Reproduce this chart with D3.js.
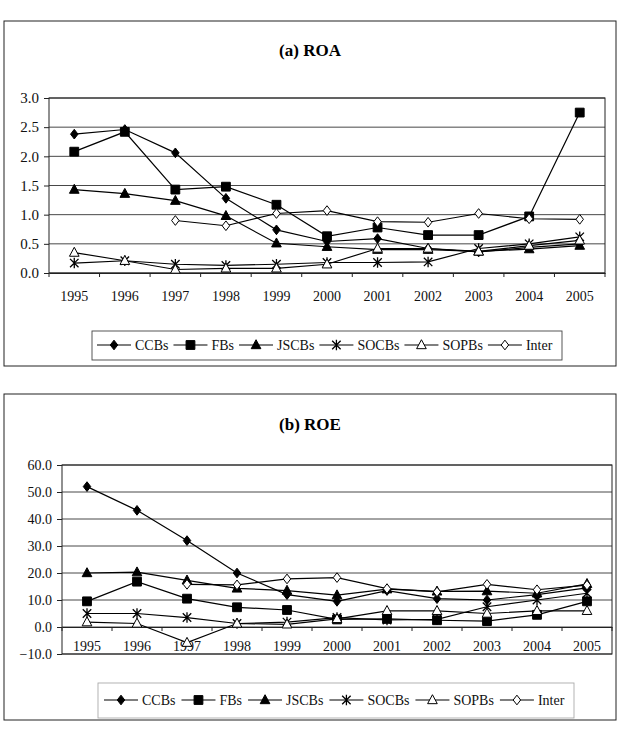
<!DOCTYPE html>
<html><head><meta charset="utf-8">
<script src="https://cdn.jsdelivr.net/npm/d3@7/dist/d3.min.js"></script>
<style>body{margin:0;background:#fff} svg{display:block;font-family:"Liberation Serif","Times New Roman",serif}</style>
</head><body><svg id="c" width="625" height="733"></svg>
<script>
const years = ["1995","1996","1997","1998","1999","2000","2001","2002","2003","2004","2005"];
const seriesNames = ["CCBs","FBs","JSCBs","SOCBs","SOPBs","Inter"];

// (a) ROA
const roaCCBs  = [2.38, 2.46, 2.06, 1.28, 0.74, 0.54, 0.59, 0.42, 0.36, 0.44, 0.50];
const roaFBs   = [2.08, 2.42, 1.43, 1.48, 1.17, 0.63, 0.78, 0.65, 0.65, 0.97, 2.75];
const roaJSCBs = [1.43, 1.36, 1.24, 0.98, 0.51, 0.45, 0.40, 0.40, 0.37, 0.41, 0.47];
const roaSOCBs = [0.17, 0.21, 0.15, 0.13, 0.15, 0.18, 0.18, 0.19, 0.42, 0.50, 0.62];
const roaSOPBs = [0.35, 0.21, 0.06, 0.08, 0.08, 0.15, 0.42, 0.42, 0.37, 0.47, 0.56];
const roaInter = [null, null, 0.90, 0.81, 1.02, 1.07, 0.88, 0.87, 1.02, 0.93, 0.92];
const roaTicks = [0.0, 0.5, 1.0, 1.5, 2.0, 2.5, 3.0];

// (b) ROE
const roeCCBs  = [52.0, 43.2, 32.0, 20.0, 12.0, 9.5, 13.5, 10.5, 10.0, 12.0, 14.5];
const roeFBs   = [9.5, 16.8, 10.5, 7.3, 6.3, 2.8, 3.0, 2.5, 2.2, 4.5, 9.5];
const roeJSCBs = [20.0, 20.3, 17.3, 14.3, 13.5, 11.8, 14.0, 13.2, 13.3, 12.5, 16.0];
const roeSOCBs = [5.0, 5.0, 3.5, 1.3, 1.8, 3.5, 2.6, 2.8, 7.5, 10.0, 12.5];
const roeSOPBs = [1.8, 1.3, -5.8, 1.3, 1.0, 3.0, 6.0, 6.0, 5.0, 6.0, 6.0];
const roeInter = [null, null, 15.8, 15.6, 17.8, 18.3, 14.2, 13.0, 15.8, 13.8, 15.5];
const roeTicks = [-10, 0, 10, 20, 30, 40, 50, 60];

const svg = d3.select("#c");

function markerPath(kind, s) {
  switch (kind) {
    case "diamond": return `M0,${-s*1.1}L${s*0.85},0L0,${s*1.1}L${-s*0.85},0Z`;
    case "square": return `M${-s},${-s}H${s}V${s}H${-s}Z`;
    case "triangle": return `M0,${-s*1.15}L${s*1.05},${s*0.8}L${-s*1.05},${s*0.8}Z`;
    case "star": {
      const r = s*1.15, d = r*0.8;
      return `M0,${-r}V${r}M${-d},${-d}L${d},${d}M${d},${-d}L${-d},${d}`;
    }
  }
}
const markerStyle = {
  CCBs:  {kind:"diamond", fill:"#000", size:4.4},
  FBs:   {kind:"square", fill:"#000", size:4.4},
  JSCBs: {kind:"triangle", fill:"#000", size:4.6},
  SOCBs: {kind:"star", fill:"none", size:4.6},
  SOPBs: {kind:"triangle", fill:"#fff", size:4.6},
  Inter: {kind:"diamond", fill:"#fff", size:4.4}
};

function drawMarker(g, name, x, y) {
  const st = markerStyle[name];
  g.append("path")
    .attr("transform", `translate(${x},${y})`)
    .attr("d", markerPath(st.kind, st.size))
    .attr("fill", st.fill)
    .attr("stroke", "#000")
    .attr("stroke-width", st.kind === "star" ? 1.3 : 1);
}

function drawPanel(cfg) {
  const g = svg.append("g");
  g.append("rect").attr("x", cfg.box[0]).attr("y", cfg.box[1])
    .attr("width", cfg.box[2]-cfg.box[0]).attr("height", cfg.box[3]-cfg.box[1])
    .attr("fill", "none").attr("stroke", "#222").attr("stroke-width", 1);
  g.append("text").attr("x", cfg.titleX).attr("y", cfg.titleY)
    .attr("text-anchor", "middle").attr("font-size", 17).attr("font-weight", "bold")
    .text(cfg.title);

  const x = d3.scaleBand().domain(years).range([cfg.plot.left, cfg.plot.right]);
  const y = d3.scaleLinear().domain([cfg.ticks[0], cfg.ticks[cfg.ticks.length-1]])
    .range([cfg.plot.bottom, cfg.plot.top]);

  g.append("g").selectAll("line").data(cfg.ticks).join("line")
    .attr("x1", cfg.plot.left).attr("x2", cfg.plot.right)
    .attr("y1", d => y(d)).attr("y2", d => y(d))
    .attr("stroke", "#333").attr("stroke-width", 0.9);

  g.append("rect").attr("x", cfg.plot.left).attr("y", cfg.plot.top)
    .attr("width", cfg.plot.right - cfg.plot.left).attr("height", cfg.plot.bottom - cfg.plot.top)
    .attr("fill", "none").attr("stroke", "#222").attr("stroke-width", 1);

  const yAxis = d3.axisLeft(y).tickValues(cfg.ticks).tickFormat(d3.format(".1f")).tickSize(5).tickPadding(5);
  const ya = g.append("g").attr("transform", `translate(${cfg.plot.left},0)`).call(yAxis);
  ya.select(".domain").remove();
  ya.selectAll("text").attr("font-size", cfg.yFont).attr("font-family", "Liberation Serif").attr("fill", "#111");
  ya.selectAll("line").attr("stroke", "#222");

  const zeroY = y(0);
  const xa = g.append("g").attr("transform", `translate(0,${zeroY})`)
    .call(d3.axisBottom(x).tickSize(0).tickFormat(""));
  xa.select(".domain").attr("stroke", "#222");
  const bounds = years.map(d => x(d)).concat([cfg.plot.right]);
  g.append("g").selectAll("line").data(bounds).join("line")
    .attr("x1", d => d).attr("x2", d => d)
    .attr("y1", zeroY).attr("y2", zeroY + 4)
    .attr("stroke", "#222");
  g.append("g").selectAll("text").data(years).join("text")
    .attr("x", d => x(d) + x.bandwidth()/2).attr("y", cfg.labelY)
    .attr("text-anchor", "middle").attr("font-size", 14).attr("fill", "#111")
    .text(d => d);

  const line = d3.line().defined(d => d.v !== null)
    .x(d => x(d.year) + x.bandwidth()/2).y(d => y(d.v));
  seriesNames.forEach((name, i) => {
    const pts = years.map((yr, j) => ({year: yr, v: cfg.series[i][j]}));
    g.append("path").datum(pts).attr("d", line)
      .attr("fill", "none").attr("stroke", "#000").attr("stroke-width", 1.2);
  });
  seriesNames.forEach((name, i) => {
    years.forEach((yr, j) => {
      const v = cfg.series[i][j];
      if (v === null) return;
      drawMarker(g, name, x(yr) + x.bandwidth()/2, y(v));
    });
  });

  const lg = g.append("g");
  if (cfg.legendBox) {
    lg.append("rect").attr("x", cfg.legendBox[0]).attr("y", cfg.legendBox[1])
      .attr("width", cfg.legendBox[2]-cfg.legendBox[0]).attr("height", cfg.legendBox[3]-cfg.legendBox[1])
      .attr("fill", "none").attr("stroke", cfg.legendStroke).attr("stroke-width", 0.9);
  }
  let cx = cfg.legendX;
  seriesNames.forEach(name => {
    lg.append("line").attr("x1", cx).attr("x2", cx + 34)
      .attr("y1", cfg.legendY).attr("y2", cfg.legendY)
      .attr("stroke", "#000").attr("stroke-width", 1.2);
    drawMarker(lg, name, cx + 17, cfg.legendY);
    const t = lg.append("text").attr("x", cx + 38).attr("y", cfg.legendY + 5)
      .attr("font-size", 14).attr("fill", "#111").text(name);
    cx += 38 + t.node().getComputedTextLength() + cfg.legendGap;
  });
}

drawPanel({
  title: "(a) ROA",
  box: [4, 21, 616, 366],
  titleX: 310, titleY: 56,
  plot: {left: 49, right: 605, top: 98, bottom: 273},
  ticks: roaTicks, yFont: 15,
  labelY: 301,
  series: [roaCCBs, roaFBs, roaJSCBs, roaSOCBs, roaSOPBs, roaInter],
  legendBox: [92, 331, 562, 360], legendStroke: "#444",
  legendX: 97, legendY: 345, legendGap: 5
});

drawPanel({
  title: "(b) ROE",
  box: [4, 394, 616, 720],
  titleX: 310, titleY: 430,
  plot: {left: 62, right: 612, top: 465, bottom: 654},
  ticks: roeTicks, yFont: 14,
  labelY: 651,
  series: [roeCCBs, roeFBs, roeJSCBs, roeSOCBs, roeSOPBs, roeInter],
  legendBox: [98, 683, 574, 718], legendStroke: "#aaa",
  legendX: 104, legendY: 700, legendGap: 6
});
</script>
</body></html>
